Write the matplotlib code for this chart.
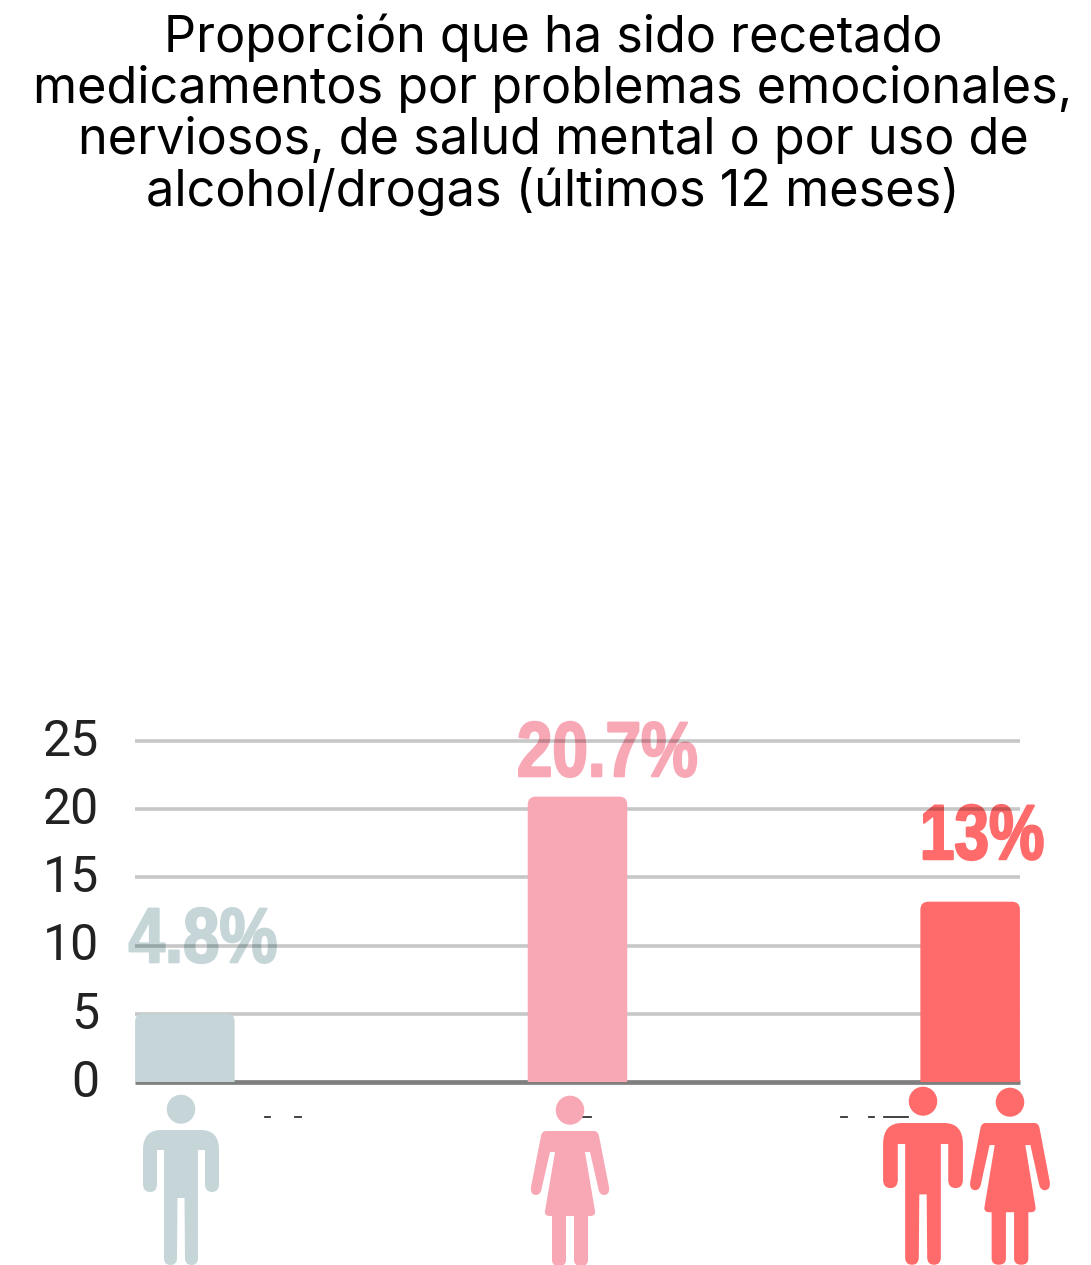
import matplotlib
matplotlib.use("Agg")
import matplotlib.pyplot as plt
from matplotlib.patches import FancyBboxPatch, Ellipse, PathPatch
from matplotlib.path import Path
from matplotlib.patheffects import AbstractPathEffect
from matplotlib.transforms import Affine2D, ScaledTranslation

title_text = "Proporción que ha sido recetado\nmedicamentos por problemas emocionales,\nnerviosos, de salud mental o por uso de\nalcohol/drogas (últimos 12 meses)"
categories = ["Hombres", "Mujeres", "Ambos"]
values = [4.8, 20.7, 13.0]
value_labels = ["4.8%", "20.7%", "13%"]
colors = ["#C5D5D8", "#F8A7B5", "#FF6B6B"]
y_ticks = [0, 5, 10, 15, 20, 25]

W, H = 1091, 1265
fig = plt.figure(figsize=(W/100, H/100), dpi=100)
L, R, T, B = 135, 1020, 741, 1082
ax = fig.add_axes([L/W, 1-B/H, (R-L)/W, (B-T)/H])
ax.set_xlim(-0.127, 2.127)
ax.set_ylim(0, 25)
ax.set_yticks(y_ticks)
ax.set_yticklabels([str(t) for t in y_ticks], fontsize=36, family="Roboto", color="#222222")
ax.tick_params(axis="y", length=0, pad=26)
ax.set_xticks([])
up = ScaledTranslation(0, 3/72, fig.dpi_scale_trans)
for lab in ax.get_yticklabels():
    lab.set_transform(lab.get_transform() + up)
for s in ax.spines.values():
    s.set_visible(False)
ax.patch.set_alpha(0)


class Squeeze(AbstractPathEffect):
    """Narrow a text horizontally about a pixel x position and thicken its strokes."""
    def __init__(self, sx, cx, weight):
        super().__init__()
        self.sx, self.cx, self.weight = sx, cx, weight

    def draw_path(self, renderer, gc, tpath, affine, rgbFace=None):
        extra = Affine2D().translate(-self.cx, 0).scale(self.sx, 1).translate(self.cx, 0)
        gc0 = renderer.new_gc()
        gc0.copy_properties(gc)
        gc0.set_foreground(rgbFace)
        gc0.set_linewidth(self.weight)
        renderer.draw_path(gc0, tpath, affine + extra, rgbFace)
        gc0.restore()


for t in y_ticks[1:]:
    ax.plot([-0.127, 2.127], [t, t], color="black", alpha=0.22, lw=2.6, zorder=2, clip_on=False, solid_capstyle="butt")
ax.plot([-0.127, 2.127], [0, 0], color="#7f7f7f", lw=3.4, zorder=2, clip_on=False, solid_capstyle="butt")

bw = 0.2535
px_x = (R-L)/2.254
px_y = (B-T)/25
r_px = 8
extra_top = 3/px_y
for i, (v, c) in enumerate(zip(values, colors)):
    r = r_px/px_x
    box = FancyBboxPatch((i-bw/2+r, -2), bw-2*r, v+2+extra_top-r_px/px_y,
                         boxstyle=f"round,pad={r},rounding_size={r}",
                         mutation_aspect=px_x/px_y, fc=c, ec="none", zorder=3)
    ax.add_patch(box)
    box.set_clip_path(ax.patch)

offsets = [(0.046, 3.98), (0.076, 1.72), (0.03, 3.34)]
squeeze = [0.84, 0.82, 0.80]
for i, (v, lab, c) in enumerate(zip(values, value_labels, colors)):
    dx, dy = offsets[i]
    tx = ax.text(i+dx, v+dy, lab, ha="center", va="baseline", fontsize=56, family="Liberation Sans",
                 fontweight="bold", color=c, zorder=1, clip_on=False)
    cx = ax.transData.transform((i+dx, 0))[0]
    tx.set_path_effects([Squeeze(squeeze[i], cx, 1.6)])

fig.text(553/W, 1-114.5/H, title_text, ha="center", va="center", fontsize=36.3, family="Inter",
         color="black", linespacing=1.08)

# icon overlay in pixel coordinates
ov = fig.add_axes([0, 0, 1, 1], zorder=5)
ov.set_xlim(0, W); ov.set_ylim(H, 0); ov.axis("off")
M, Ln, Q = Path.MOVETO, Path.LINETO, Path.CURVE3


def half_path(segs, sx, sy, cx, y0):
    """Mirror a right-hand outline (from top centre to bottom centre) into a closed path."""
    verts, codes = [(0, 0)], [M]
    for code, pts in segs:
        for p in pts:
            verts.append(p); codes.append(code)
    back = list(reversed(verts[:-1]))
    back_codes = list(reversed(codes[1:]))
    verts2 = verts + [(-x, y) for x, y in back]
    codes2 = codes + back_codes
    return Path([(cx + x*sx, y0 + y*sy) for x, y in verts2], codes2)


man_segs = [
    (Ln, [(20, 0)]),
    (Q, [(38, 0), (38, 20)]),
    (Ln, [(38, 54)]),
    (Q, [(38, 62), (31, 62)]),
    (Q, [(24, 62), (24, 54)]),
    (Ln, [(24, 20), (17, 20), (17, 128)]),
    (Q, [(17, 135), (10.5, 135)]),
    (Q, [(4, 135), (4, 128)]),
    (Ln, [(3.5, 68), (0, 68)]),
]
woman_segs = [
    (Ln, [(24, 0)]),
    (Q, [(28, 0), (29, 5)]),
    (Ln, [(39, 56)]),
    (Q, [(40, 64), (34, 64)]),
    (Q, [(29, 64), (28, 56)]),
    (Ln, [(20, 21), (15, 21), (25, 80)]),
    (Q, [(26, 85), (20, 85)]),
    (Ln, [(18, 85), (18, 129)]),
    (Q, [(18, 135), (11, 135)]),
    (Q, [(4, 135), (4, 129)]),
    (Ln, [(4, 85), (0, 85)]),
]


def person(segs, cx, head_top, body_top, c, sx=1.0, body_h=1.0):
    ov.add_patch(Ellipse((cx, head_top+14.2), 28.5, 29, fc=c, ec="none"))
    ov.add_patch(PathPatch(half_path(segs, sx, body_h, cx, body_top), fc=c, ec="none", lw=0))


person(man_segs, 181, 1095, 1130, colors[0])
person(woman_segs, 570, 1096, 1131, colors[1])
person(man_segs, 923, 1087, 1123, colors[2], sx=1.05, body_h=1.05)
person(woman_segs, 1010, 1088, 1123, colors[2], sx=1.02, body_h=1.05)

# tick-label remnants
for x0, x1 in [(265, 270), (295, 301), (581, 591), (841, 847), (869, 874), (884, 908)]:
    ov.plot([x0, x1], [1117, 1117], color="#333333", lw=1.3, zorder=0)

fig.savefig("out.png", dpi=100)
